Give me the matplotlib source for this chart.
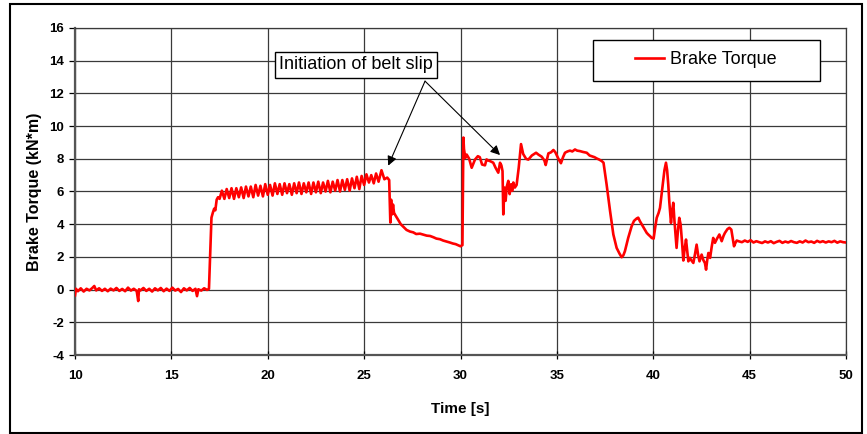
import numpy as np
import matplotlib
matplotlib.use("Agg")
import matplotlib.pyplot as plt
from matplotlib.patches import Rectangle

plt.rcParams["font.family"] = ["Liberation Sans", "DejaVu Sans"]
plt.rcParams["axes.unicode_minus"] = False

# idle, before the brake is applied
t_idle = [10.00, 10.05, 10.15, 10.30, 10.45, 10.60, 10.75, 10.90, 11.00, 11.10,
          11.25, 11.40, 11.55, 11.70, 11.85, 12.00, 12.15, 12.30, 12.45, 12.60,
          12.75, 12.90, 13.05, 13.20, 13.28, 13.32, 13.40, 13.55, 13.70, 13.85,
          14.00, 14.15, 14.30, 14.45, 14.60, 14.75, 14.90, 15.05, 15.20, 15.35,
          15.50, 15.65, 15.80, 15.95, 16.10, 16.25, 16.33, 16.40, 16.55, 16.70,
          16.85, 16.95]
v_idle = [-0.35, 0.05, -0.10, 0.08, -0.12, 0.05, -0.05, 0.10, 0.22, -0.05,
          0.08, -0.08, 0.05, -0.10, 0.06, -0.05, 0.10, -0.08, 0.04, -0.10,
          0.12, -0.06, 0.05, -0.08, -0.70, 0.02, -0.05, 0.10, -0.08, 0.05,
          -0.12, 0.08, -0.05, 0.10, -0.10, 0.06, -0.08, 0.12, -0.06, 0.04,
          -0.15, 0.08, -0.05, 0.10, -0.08, 0.05, -0.40, 0.02, -0.06, 0.08,
          -0.02, 0.05]

# brake on, oscillating torque up to the first slip
t_on = [17.02, 17.08, 17.15, 17.22, 17.28, 17.35, 17.42, 17.50,
        17.62, 17.75, 17.87, 18.00, 18.12, 18.25, 18.37, 18.50, 18.62, 18.75,
        18.87, 19.00, 19.12, 19.25, 19.37, 19.50, 19.62, 19.75, 19.87, 20.00,
        20.12, 20.25, 20.37, 20.50, 20.62, 20.75, 20.87, 21.00, 21.12, 21.25,
        21.37, 21.50, 21.62, 21.75, 21.87, 22.00, 22.12, 22.25, 22.37, 22.50,
        22.62, 22.75, 22.87, 23.00, 23.12, 23.25, 23.37, 23.50, 23.62, 23.75,
        23.87, 24.00, 24.12, 24.25, 24.37, 24.50, 24.62, 24.75, 24.87, 25.00,
        25.12, 25.25, 25.37, 25.50, 25.62, 25.75, 25.90, 26.05, 26.20, 26.30]
v_on = [2.50, 4.40, 4.70, 4.95, 4.85, 5.50, 5.65, 5.55,
        6.05, 5.55, 6.15, 5.60, 6.20, 5.55, 6.20, 5.65, 6.25, 5.60,
        6.30, 5.70, 6.30, 5.65, 6.40, 5.75, 6.35, 5.70, 6.45, 5.80,
        6.40, 5.75, 6.50, 5.85, 6.45, 5.80, 6.50, 5.90, 6.45, 5.80,
        6.50, 5.90, 6.55, 5.85, 6.50, 5.95, 6.55, 5.85, 6.55, 5.95,
        6.60, 5.90, 6.55, 6.00, 6.65, 5.95, 6.60, 6.05, 6.70, 6.00,
        6.70, 6.10, 6.75, 6.05, 6.80, 6.20, 6.90, 6.15, 6.95, 6.40,
        7.05, 6.55, 7.00, 6.50, 7.10, 6.60, 7.30, 6.75, 6.85, 6.70]

# first slip and decay
t_slip1 = [26.36, 26.40, 26.45, 26.50, 26.55, 26.62, 26.70, 26.80, 26.90, 27.03,
           27.20, 27.38, 27.55, 27.70, 27.90, 28.10, 28.25, 28.42, 28.60, 28.75,
           28.94, 29.10, 29.25, 29.45, 29.60, 29.75, 29.90, 30.00, 30.10]
v_slip1 = [4.10, 5.50, 4.60, 5.20, 4.70, 4.55, 4.40, 4.20, 4.00, 3.85,
           3.65, 3.55, 3.50, 3.40, 3.42, 3.35, 3.30, 3.28, 3.20, 3.12,
           3.08, 3.00, 2.95, 2.88, 2.82, 2.78, 2.70, 2.65, 2.72]

# second brake application
t_on2 = [30.15, 30.18, 30.25, 30.32, 30.45, 30.58, 30.75, 30.90, 31.00, 31.12,
         31.27, 31.35, 31.44, 31.55, 31.70, 31.82, 31.96, 32.05, 32.12, 32.18,
         32.22, 32.28, 32.34, 32.40, 32.48, 32.55, 32.62, 32.68, 32.74, 32.82,
         32.91, 33.02, 33.14, 33.25, 33.40, 33.52, 33.70, 33.92, 34.05, 34.21,
         34.35, 34.42, 34.56, 34.70, 34.82, 34.92, 35.00, 35.10, 35.21, 35.32,
         35.42, 35.55, 35.68, 35.80, 35.94, 36.05, 36.20, 36.35, 36.55, 36.70,
         36.80, 36.95, 37.07, 37.20, 37.33, 37.42]
v_on2 = [9.30, 8.60, 8.05, 8.26, 8.00, 7.45, 7.95, 8.16, 8.10, 7.65,
         7.60, 7.96, 7.90, 7.85, 7.76, 7.45, 7.15, 7.76, 7.60, 7.25,
         4.60, 6.24, 5.43, 6.30, 6.65, 5.84, 6.44, 6.04, 6.55, 6.24,
         6.40, 7.45, 8.90, 8.30, 8.00, 7.95, 8.20, 8.37, 8.25, 8.13,
         7.90, 7.62, 8.33, 8.40, 8.54, 8.40, 8.20, 7.95, 7.73, 8.10,
         8.37, 8.45, 8.50, 8.45, 8.57, 8.50, 8.47, 8.42, 8.37, 8.20,
         8.16, 8.10, 8.02, 7.95, 7.86, 7.76]

# release and ringing
t_ring = [37.58, 37.76, 37.93, 38.10, 38.25, 38.36, 38.45, 38.53, 38.70, 38.88,
          39.00, 39.14, 39.22, 39.31, 39.45, 39.57, 39.66, 39.74, 39.85, 39.92,
          40.02, 40.10, 40.18, 40.28, 40.35, 40.42, 40.49, 40.58, 40.66, 40.72,
          40.78, 40.83, 40.92, 40.98, 41.04, 41.10, 41.21, 41.28, 41.35, 41.42,
          41.50, 41.56, 41.63, 41.70, 41.76, 41.82, 41.90, 41.97, 42.08, 42.17,
          42.25, 42.33, 42.40, 42.51, 42.60, 42.68, 42.74, 42.80, 42.86, 42.95,
          43.03, 43.11, 43.20, 43.30, 43.43, 43.55, 43.65, 43.72, 43.85, 43.95,
          44.05, 44.19, 44.26, 44.33]
v_ring = [6.43, 4.80, 3.37, 2.55, 2.20, 1.98, 2.10, 2.35, 3.16, 3.88,
          4.20, 4.35, 4.40, 4.18, 3.90, 3.67, 3.47, 3.37, 3.25, 3.16,
          3.12, 3.80, 4.39, 4.70, 5.00, 5.70, 6.43, 7.30, 7.76, 7.30,
          6.40, 5.41, 4.08, 4.80, 5.31, 4.20, 2.55, 3.60, 4.39, 3.98,
          2.80, 1.78, 2.50, 3.06, 2.40, 1.73, 1.94, 1.80, 1.63, 2.20,
          2.75, 2.10, 1.73, 2.14, 1.80, 1.63, 1.22, 1.80, 2.24, 1.94,
          2.60, 3.16, 2.86, 3.10, 3.37, 2.96, 3.30, 3.47, 3.70, 3.78,
          3.67, 2.65, 2.85, 3.00]

# steady state
t_steady = [44.45, 44.60, 44.75, 44.90, 45.05, 45.20, 45.35, 45.50, 45.65, 45.80,
            45.95, 46.10, 46.25, 46.40, 46.55, 46.70, 46.85, 47.00, 47.15, 47.30,
            47.45, 47.60, 47.75, 47.90, 48.05, 48.20, 48.35, 48.50, 48.65, 48.80,
            48.95, 49.10, 49.25, 49.40, 49.55, 49.70, 49.85, 50.00]
v_steady = [2.95, 2.90, 3.00, 2.92, 3.02, 2.88, 2.96, 2.90, 2.85, 2.95,
            2.88, 2.96, 2.84, 2.92, 2.98, 2.86, 2.94, 2.88, 2.97, 2.90,
            2.86, 2.95, 2.88, 3.00, 2.90, 2.94, 2.86, 2.98, 2.90, 2.96,
            2.88, 2.95, 2.90, 2.98, 2.87, 2.95, 2.90, 2.88]

# arrow targets for the annotation (time, torque)
slip_points = [(26.25, 7.58), (32.05, 8.23)]

time = np.concatenate([t_idle, t_on, t_slip1, t_on2, t_ring, t_steady])
torque = np.concatenate([v_idle, v_on, v_slip1, v_on2, v_ring, v_steady])
assert time.size == torque.size

fig = plt.figure(figsize=(8.67, 4.34), dpi=100)
ax = fig.add_axes([75 / 867, 1 - 355 / 434, 771 / 867, 327 / 434])

ax.plot(time, torque, color="#ff0000", lw=1.9, label="Brake Torque", zorder=3)

ax.set_xlim(10, 50)
ax.set_ylim(-4, 16)
ax.set_xticks(np.arange(10, 51, 5))
ax.set_yticks(np.arange(-4, 17, 2))
ax.grid(True, color="#3a3a3a", lw=0.9)
for side in ["top", "right"]:
    ax.spines[side].set_color("#3a3a3a")
    ax.spines[side].set_linewidth(0.9)
for side in ["left", "bottom"]:
    ax.spines[side].set_color("#555555")
    ax.spines[side].set_linewidth(1.6)
ax.tick_params(axis="x", direction="inout", length=6, width=0.9, pad=8)
ax.tick_params(axis="y", direction="out", length=4, width=0.9, pad=4)
for lbl in ax.get_xticklabels() + ax.get_yticklabels():
    lbl.set_fontsize(9.5)
    lbl.set_fontweight("bold")

ax.set_xlabel("Time [s]", fontsize=11, fontweight="bold", labelpad=14)
ax.set_ylabel("Brake Torque (kN*m)", fontsize=11.5, fontweight="bold", labelpad=5)

# annotation box with two arrows
ax.text(24.58, 13.75, "Initiation of belt slip", fontsize=13, ha="center", va="center",
        bbox=dict(boxstyle="square,pad=0.25", fc="white", ec="black", lw=1), zorder=5)
for tx, ty in slip_points:
    ax.annotate("", xy=(tx, ty), xytext=(28.16, 12.75),
                arrowprops=dict(arrowstyle="-|>", color="black", lw=0.8,
                                mutation_scale=14, shrinkA=0, shrinkB=0), zorder=4)

# legend with a wide frame
frame = Rectangle((593 / 867, 1 - 80.5 / 434), 227 / 867, 40.5 / 434,
                  transform=fig.transFigure, fc="white", ec="black", lw=1,
                  zorder=4, clip_on=False)
ax.add_patch(frame)
leg = ax.legend(loc="center", bbox_to_anchor=((706 - 75) / 771, 1 - (60 - 28) / 327),
                frameon=False, fontsize=13, handlelength=1.6, handletextpad=0.35)
leg.set_zorder(6)

# outer frame around the whole chart
fig.patches.append(Rectangle((10 / 867, 1 / 434), 852 / 867, 429 / 434,
                             transform=fig.transFigure, fill=False, ec="black", lw=1.5))

fig.savefig("out.png", dpi=100)
